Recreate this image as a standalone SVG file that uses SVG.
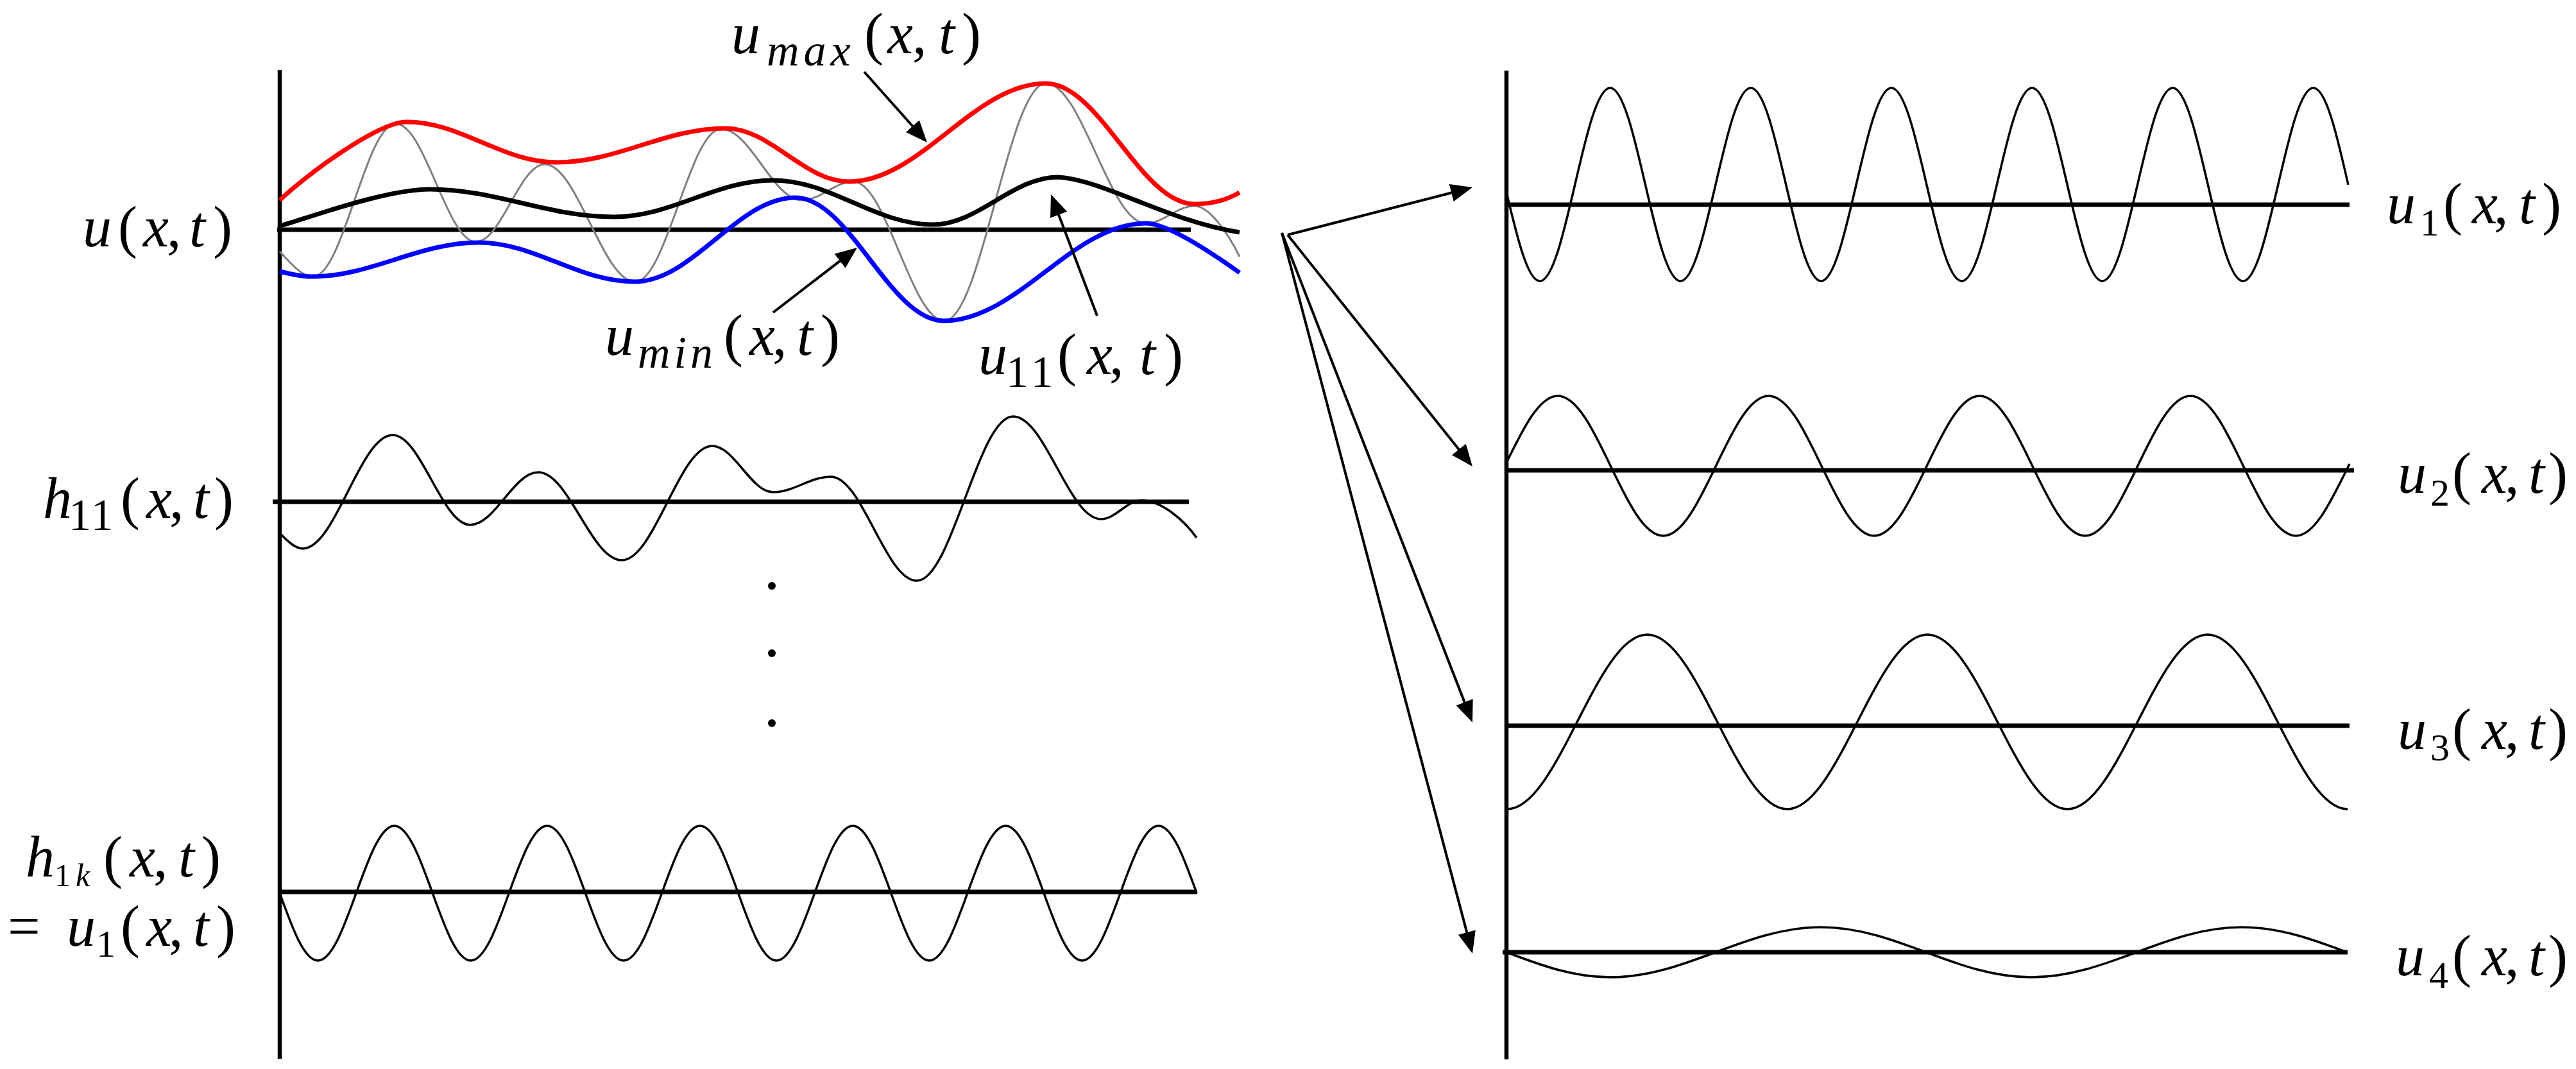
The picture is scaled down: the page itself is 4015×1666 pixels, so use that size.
<svg xmlns="http://www.w3.org/2000/svg" width="4015" height="1666" viewBox="0 0 4015 1666">
<style>
.axis{stroke:#000;stroke-width:6.5;fill:none}
.base{stroke:#000;stroke-width:7;fill:none}
.thin{stroke:#000;stroke-width:3.5;fill:none}
.gray{stroke:#7f7f7f;stroke-width:3;fill:none}
.red{stroke:#ff0000;stroke-width:7;fill:none}
.blue{stroke:#0000ff;stroke-width:7;fill:none}
.mean{stroke:#000;stroke-width:7;fill:none}
.arrow{stroke:#000;stroke-width:4;fill:none;marker-end:url(#ah)}
.lbl{font-family:"Liberation Serif","DejaVu Serif",serif;font-size:90px;fill:#000}
.it{font-style:italic}
.sub{font-size:60px}
.subS{font-size:50px}
.subL{font-size:70px}
</style>
<defs>
<marker id="ah" markerUnits="userSpaceOnUse" markerWidth="34" markerHeight="28" viewBox="0 0 34 28" refX="22" refY="14" orient="auto"><path d="M0,0 L34,14 L0,28 z" fill="#000"/></marker>
</defs>
<rect width="4015" height="1666" fill="#fff"/>

<g id="left-axis"><line class="axis" x1="436" y1="109" x2="436" y2="1650"/></g>

<g id="plot-u">
<line class="base" x1="432" y1="358" x2="1856" y2="358"/>
<path class="gray" d="M436,392 C455,412 470,431 488,431 C534.9,431 570.1,193 617,193 C662.4,193 696.6,377 742,377 C780.9,377 810.1,256 849,256 C900.2,256 938.8,439 990,439 C1038.7,439 1075.3,201 1124,201 C1169.8,201 1204.2,312 1250,312 C1279.1,312 1300.9,283 1330,283 C1381.6,283 1420.4,500 1472,500 C1529.4,500 1572.6,130 1630,130 C1686.7,130 1729.3,348 1786,348 C1813.6,348 1834.4,321 1862,321 C1885,321 1915,365 1932,400"/>
<path id="u-max" class="red" d="M436,312 C480,270 590,190 634,190 C718.7,190 782.3,253 867,253 C962.9,253 1035.1,200 1131,200 C1200.8,200 1253.2,283 1323,283 C1434.6,283 1518.4,130 1630,130 C1714.3,130 1777.7,318 1862,318 C1890,318 1915,310 1932,300"/>
<path id="u-min" class="blue" d="M436,423 C452,427 470,431 485,431 C579.8,431 651.2,378 746,378 C834.3,378 900.7,439 989,439 C1080.2,439 1148.8,308 1240,308 C1323.9,308 1387.1,500 1471,500 C1585.5,500 1671.5,348 1786,348 C1820,348 1890,395 1932,425"/>
<path id="u-mean" class="mean" d="M436,352 C480,340 600,295 670,295 C774.3,295 852.7,338 957,338 C1047.1,338 1114.9,281 1205,281 C1295.5,281 1363.5,350 1454,350 C1524.9,350 1578.1,276 1649,276 C1720,280 1820,345 1932,362"/>
</g>

<g id="plot-h11">
<line class="base" x1="425" y1="782" x2="1853" y2="782"/>
<path class="thin" d="M436,831 C448,843 460,855 472,855 C522.9,855 561.1,678 612,678 C656,678 689,818 733,818 C771.5,818 800.5,736 839,736 C886.2,736 921.8,873 969,873 C1020.2,873 1058.8,695 1110,695 C1144.5,695 1170.5,767 1205,767 C1237.7,767 1262.3,743 1295,743 C1343.7,743 1380.3,905 1429,905 C1483.5,905 1524.5,649 1579,649 C1628.8,649 1666.2,809 1716,809 C1738.9,809 1756.1,780 1779,780 C1810,780 1845,810 1865,838"/>
</g>

<g id="dots">
<circle cx="1203" cy="913" r="6"/>
<circle cx="1203" cy="1018" r="6"/>
<circle cx="1203" cy="1127" r="6"/>
</g>

<g id="plot-h1k">
<line class="base" x1="436" y1="1390" x2="1866" y2="1390"/>
<path class="thin" d="M436,1392 C455.4,1445.8 474,1497 495.55,1497 C538.83,1497 571.37,1287 614.65,1287 C657.93,1287 690.470,1497 733.75,1497 C777.03,1497 809.57,1287 852.85,1287 C896.13,1287 928.67,1497 971.95,1497 C1015.23,1497 1047.77,1287 1091.05,1287 C1134.33,1287 1166.87,1497 1210.15,1497 C1253.43,1497 1285.97,1287 1329.25,1287 C1372.53,1287 1405.07,1497 1448.35,1497 C1491.63,1497 1524.17,1287 1567.45,1287 C1610.73,1287 1643.27,1497 1686.55,1497 C1729.83,1497 1762.37,1287 1805.65,1287 C1827.2,1287 1845.8,1338.2 1865.2,1392"/>
</g>

<g id="right-axis"><line class="axis" x1="2348" y1="110" x2="2348" y2="1651"/></g>

<g id="plot-u1">
<line class="base" x1="2348" y1="319" x2="3662" y2="319"/>
<path class="thin" d="M2348,300 C2365,371 2381,438 2400,438 C2439.8,438 2469.8,137 2509.6,137 C2549.4,137 2579.4,438 2619.2,438 C2659,438 2689,137 2728.8,137 C2768.6,137 2798.6,438 2838.4,438 C2878.2,438 2908.2,137 2948,137 C2987.8,137 3017.8,438 3057.6,438 C3097.4,438 3127.4,137 3167.2,137 C3207,137 3237,438 3276.8,438 C3316.6,438 3346.6,137 3386.4,137 C3426.2,137 3456.2,438 3496,438 C3535.8,438 3565.8,137 3605.6,137 C3625.3,137 3642.3,210 3660,288"/>
</g>

<g id="plot-u2">
<line class="base" x1="2348" y1="733" x2="3669" y2="733"/>
<path class="thin" d="M2348,721 C2374,668 2399,617 2428,617 C2487.7,617 2532.7,835 2592.4,835 C2652.1,835 2697,617 2756.7,617 C2816.4,617 2861.4,835 2921.1,835 C2980.8,835 3025.7,617 3085.4,617 C3145.1,617 3190.1,835 3249.8,835 C3309.5,835 3354.4,617 3414.1,617 C3473.8,617 3518.8,835 3578.5,835 C3608.7,835 3634.8,777.6 3662,723"/>
</g>

<g id="plot-u3">
<line class="base" x1="2348" y1="1131" x2="3662" y2="1131"/>
<path class="thin" d="M2349,1261 C2428.35,1261 2488.05,989 2567.4,989 C2646.75,989 2706.35,1261 2785.7,1261 C2865.05,1261 2924.75,989 3004.1,989 C3083.45,989 3143.05,1261 3222.4,1261 C3301.75,1261 3361.45,989 3440.8,989 C3520.15,989 3579.75,1261 3659.1,1261"/>
</g>

<g id="plot-u4">
<line class="base" x1="2342" y1="1484" x2="3659" y2="1484"/>
<path class="thin" d="M2348,1484 C2400.8,1504 2451.4,1523 2510,1523 C2629.2,1523 2718.8,1445 2838,1445 C2957.2,1445 3046.8,1523 3166,1523 C3285.2,1523 3374.8,1445 3494,1445 C3553.4,1445 3604.5,1464 3658,1484"/>
</g>

<g id="connectors">
<line class="arrow" x1="1347" y1="112" x2="1437" y2="213"/>
<line class="arrow" x1="1205" y1="487" x2="1326.5" y2="393.3"/>
<line class="arrow" x1="1710" y1="492" x2="1642.3" y2="314.2"/>
<line class="arrow" x1="2007" y1="366" x2="2283.4" y2="295"/>
<line class="arrow" x1="2007" y1="366" x2="2287.5" y2="717.6"/>
<line class="arrow" x1="1998" y1="363" x2="2290.6" y2="1114.8"/>
<line class="arrow" x1="1998" y1="363" x2="2291.9" y2="1474.4"/>
</g>

<g id="labels" class="lbl">
<text id="lbl-u"><tspan class="it" x="129" y="384">u</tspan><tspan x="184" y="384">(</tspan><tspan class="it" x="223" y="384">x</tspan><tspan x="260" y="384">,</tspan><tspan class="it" x="295" y="384">t</tspan><tspan x="332" y="384">)</tspan></text>
<text id="lbl-h11"><tspan class="it" x="67" y="807">h</tspan><tspan class="subL" x="107" y="826" style="letter-spacing:2px">11</tspan><tspan x="188" y="807">(</tspan><tspan class="it" x="228" y="807">x</tspan><tspan x="264" y="807">,</tspan><tspan class="it" x="301" y="807">t</tspan><tspan x="334" y="807">)</tspan></text>
<text id="lbl-umax"><tspan class="it" x="1140" y="83">u</tspan><tspan class="it subL" x="1195" y="102" style="letter-spacing:7px">max</tspan><tspan x="1347" y="83">(</tspan><tspan class="it" x="1383" y="83">x</tspan><tspan x="1422" y="83">,</tspan><tspan class="it" x="1463" y="83">t</tspan><tspan x="1499" y="83">)</tspan></text>
<text id="lbl-umin"><tspan class="it" x="943" y="553">u</tspan><tspan class="it subL" x="994" y="573" style="letter-spacing:6px">min</tspan><tspan x="1128" y="553">(</tspan><tspan class="it" x="1168" y="553">x</tspan><tspan x="1204" y="553">,</tspan><tspan class="it" x="1242" y="553">t</tspan><tspan x="1279" y="553">)</tspan></text>
<text id="lbl-u11"><tspan class="it" x="1525" y="583">u</tspan><tspan class="subL" x="1568" y="603" style="letter-spacing:6px">11</tspan><tspan x="1648" y="583">(</tspan><tspan class="it" x="1694" y="583">x</tspan><tspan x="1729" y="583">,</tspan><tspan class="it" x="1776" y="583">t</tspan><tspan x="1814" y="583">)</tspan></text>
<text id="lbl-h1k"><tspan class="it" x="40" y="1366">h</tspan><tspan class="subS" x="85" y="1381" style="letter-spacing:8px">1<tspan class="it">k</tspan></tspan><tspan x="161" y="1366">(</tspan><tspan class="it" x="202" y="1366">x</tspan><tspan x="239" y="1366">,</tspan><tspan class="it" x="278" y="1366">t</tspan><tspan x="314" y="1366">)</tspan></text>
<text id="lbl-eq-u1"><tspan x="12" y="1474">=</tspan><tspan class="it" x="104" y="1474">u</tspan><tspan class="sub" x="150" y="1491">1</tspan><tspan x="188" y="1474">(</tspan><tspan class="it" x="228" y="1474">x</tspan><tspan x="263" y="1474">,</tspan><tspan class="it" x="301" y="1474">t</tspan><tspan x="337" y="1474">)</tspan></text>
<text id="lbl-u1"><tspan class="it" x="3720" y="348">u</tspan><tspan class="sub" x="3772" y="367">1</tspan><tspan x="3808" y="348">(</tspan><tspan class="it" x="3853" y="348">x</tspan><tspan x="3887" y="348">,</tspan><tspan class="it" x="3926" y="348">t</tspan><tspan x="3962" y="348">)</tspan></text>
<text id="lbl-u2"><tspan class="it" x="3737" y="768">u</tspan><tspan class="sub" x="3788" y="788">2</tspan><tspan x="3822" y="768">(</tspan><tspan class="it" x="3868" y="768">x</tspan><tspan x="3904" y="768">,</tspan><tspan class="it" x="3941" y="768">t</tspan><tspan x="3972" y="768">)</tspan></text>
<text id="lbl-u3"><tspan class="it" x="3737" y="1167">u</tspan><tspan class="sub" x="3788" y="1185">3</tspan><tspan x="3822" y="1167">(</tspan><tspan class="it" x="3868" y="1167">x</tspan><tspan x="3904" y="1167">,</tspan><tspan class="it" x="3941" y="1167">t</tspan><tspan x="3972" y="1167">)</tspan></text>
<text id="lbl-u4"><tspan class="it" x="3734" y="1520">u</tspan><tspan class="sub" x="3786" y="1540">4</tspan><tspan x="3822" y="1520">(</tspan><tspan class="it" x="3868" y="1520">x</tspan><tspan x="3904" y="1520">,</tspan><tspan class="it" x="3941" y="1520">t</tspan><tspan x="3972" y="1520">)</tspan></text>
</g>
</svg>
